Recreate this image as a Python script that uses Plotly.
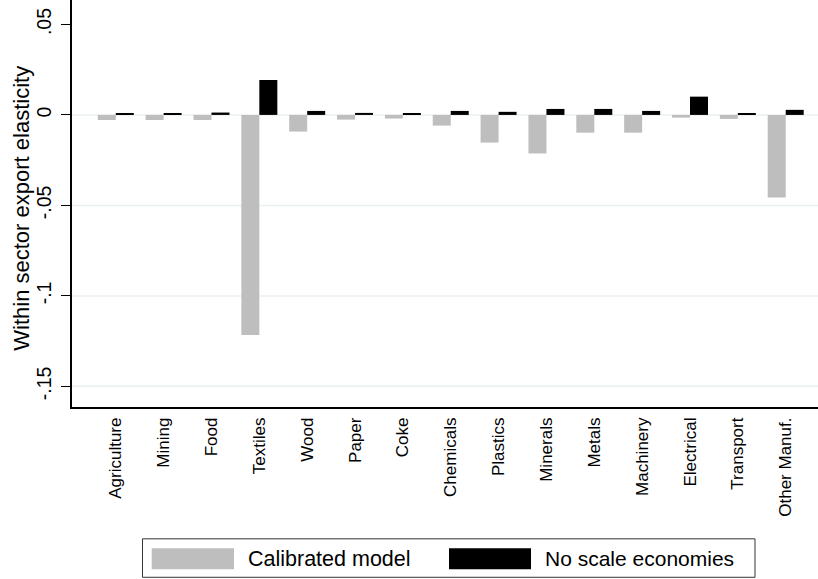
import plotly.graph_objects as go

# Sector labels and within-sector export elasticities
sectors = ["Agriculture", "Mining", "Food", "Textiles", "Wood", "Paper", "Coke",
           "Chemicals", "Plastics", "Minerals", "Metals", "Machinery",
           "Electrical", "Transport", "Other Manuf."]
calibrated = [-0.0028, -0.0028, -0.0028, -0.1216, -0.0092, -0.0026, -0.0020,
              -0.0059, -0.0153, -0.0213, -0.0098, -0.0098, -0.0015, -0.0022, -0.0456]
no_scale = [0.0009, 0.0007, 0.0013, 0.0193, 0.0022, 0.0011, 0.0007,
            0.0022, 0.0017, 0.0033, 0.0033, 0.0022, 0.0101, 0.0006, 0.0028]

y_ticks = [0.05, 0, -0.05, -0.1, -0.15]
y_tick_text = [".05", "0", "-.05", "-.1", "-.15"]
grid_values = [0, -0.05, -0.1, -0.15]

series_names = ["Calibrated model", "No scale economies"]
series_colors = ["#bebebe", "#000000"]
y_title = "Within sector export elasticity"

FONT = "Arial, Liberation Sans, Helvetica, sans-serif"
W, H = 818, 579
ML, MR, MT, MB = 72, 0, 0, 171.5

x_idx = list(range(len(sectors)))

fig = go.Figure()
for name, vals, col in zip(series_names, [calibrated, no_scale], series_colors):
    fig.add_trace(go.Bar(x=x_idx, y=vals, name=name, marker_color=col,
                         marker_line_width=0, showlegend=False))

# light horizontal grid lines behind the bars
shapes = []
for g in grid_values:
    shapes.append(dict(type="line", xref="paper", yref="y", x0=0, x1=1, y0=g, y1=g,
                       line=dict(color="#e8f0f2", width=1.5), layer="below"))

# pixel -> paper helpers for the legend box and axis title
pw = W - ML - MR
ph = H - MT - MB
def px(v):
    return (v - ML) / pw
def py(v):
    return (H - MB - v) / ph

shapes.append(dict(type="rect", xref="paper", yref="paper",
                   x0=px(142.5), x1=px(755), y0=py(578), y1=py(539.5),
                   line=dict(color="#333333", width=1), fillcolor="white"))
legend_items = [(151.7, 234, 247.7, 21.5), (449, 531, 545, 21)]
annotations = []
for (sx0, sx1, tx, fs), name, col in zip(legend_items, series_names, series_colors):
    shapes.append(dict(type="rect", xref="paper", yref="paper",
                       x0=px(sx0), x1=px(sx1), y0=py(570), y1=py(549),
                       line=dict(width=0), fillcolor=col))
    annotations.append(dict(xref="paper", yref="paper", x=px(tx - 2), y=py(559.5),
                            text=name, showarrow=False, xanchor="left", yanchor="middle",
                            font=dict(family=FONT, size=fs, color="black")))

# vertical y-axis title
annotations.append(dict(xref="paper", yref="paper", x=px(22), y=py(209),
                        text=y_title, textangle=-90, showarrow=False,
                        xanchor="center", yanchor="middle",
                        font=dict(family=FONT, size=22, color="black")))

fig.update_layout(
    width=W, height=H,
    margin=dict(l=ML, r=MR, t=MT, b=MB, pad=0),
    paper_bgcolor="white", plot_bgcolor="white",
    barmode="group", bargap=0.248, bargroupgap=0,
    shapes=shapes, annotations=annotations,
    font=dict(family=FONT, color="black"),
    showlegend=False,
)
fig.update_xaxes(
    range=[-0.915, 14.675], tickmode="array", tickvals=x_idx, ticktext=sectors,
    tickangle=-90, tickfont=dict(size=17), ticks="", showgrid=False,
    showline=True, linecolor="black", linewidth=1.5, zeroline=False,
    ticklabelstandoff=2,
)
fig.update_yaxes(
    range=[-0.1614, 0.0635], tickmode="array", tickvals=y_ticks, ticktext=y_tick_text,
    tickangle=-90, tickfont=dict(size=19.5), ticks="outside", ticklen=9, tickwidth=1,
    tickcolor="black", showgrid=False, zeroline=False,
    showline=True, linecolor="black", linewidth=1.5,
    ticklabelstandoff=2,
)

fig.write_html("out.html")
